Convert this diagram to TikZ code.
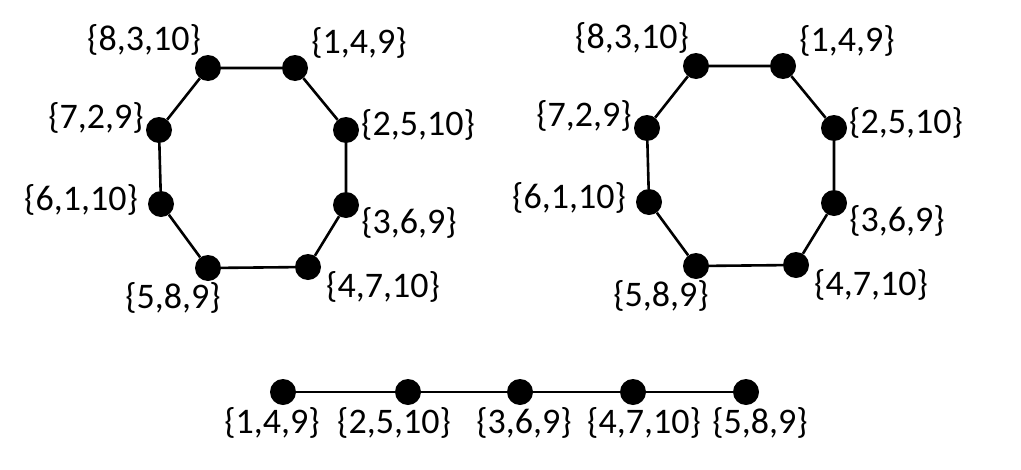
\documentclass[tikz,border=0pt]{standalone}
\usepackage{fontspec}
\setmainfont{Carlito}
\usetikzlibrary{calc}
\tikzset{
  vertex/.style={circle, fill=black, inner sep=0pt, minimum size=26pt},
  tag/.style={font=\fontsize{36}{40}\selectfont, inner sep=0pt},
  edge/.style={line width=2.6pt}
}
\begin{document}
\begin{tikzpicture}[x=1pt, y=-1pt]
  \useasboundingbox (0,0) rectangle (1021,469);
  % the two cycles
  \foreach \o/\dx/\dy in {l/0/0, r/488/-2} {
    \begin{scope}[shift={(\dx,\dy)}]
      \node[vertex] (\o1) at (208,68) {};
      \node[vertex] (\o2) at (295,68) {};
      \node[vertex] (\o3) at (346,130) {};
      \node[vertex] (\o4) at (346,205) {};
      \node[vertex] (\o5) at (308,267) {};
      \node[vertex] (\o6) at (208,268) {};
      \node[vertex] (\o7) at (161,204) {};
      \node[vertex] (\o8) at (159,130) {};
      \draw[edge] (\o1) -- (\o2) -- (\o3) -- (\o4) -- (\o5) -- (\o6) -- (\o7) -- (\o8) -- (\o1);
      \node[tag] (\o t1) at (144,40) {\{8,3,10\}};
      \node[tag] (\o t2) at (359,43) {\{1,4,9\}};
      \node[tag] (\o t3) at (418,125) {\{2,5,10\}};
      \node[tag] (\o t4) at (409,223) {\{3,6,9\}};
      \node[tag] (\o t5) at (383,287) {\{4,7,10\}};
      \node[tag] (\o t6) at (173,298) {\{5,8,9\}};
      \node[tag] (\o t7) at (81,200) {\{6,1,10\}};
      \node[tag] (\o t8) at (96,118) {\{7,2,9\}};
    \end{scope}
  }
  % the path
  \node[vertex] (p1) at (283,392) {};
  \node[vertex] (p2) at (408,392) {};
  \node[vertex] (p3) at (520,392) {};
  \node[vertex] (p4) at (633,392) {};
  \node[vertex] (p5) at (746,392) {};
  \draw[edge] (p1) -- (p2) -- (p3) -- (p4) -- (p5);
  \node[tag] (pt1) at (272,423) {\{1,4,9\}};
  \node[tag] (pt2) at (394,423) {\{2,5,10\}};
  \node[tag] (pt3) at (524,423) {\{3,6,9\}};
  \node[tag] (pt4) at (644,423) {\{4,7,10\}};
  \node[tag] (pt5) at (760,423) {\{5,8,9\}};
\end{tikzpicture}
\end{document}
